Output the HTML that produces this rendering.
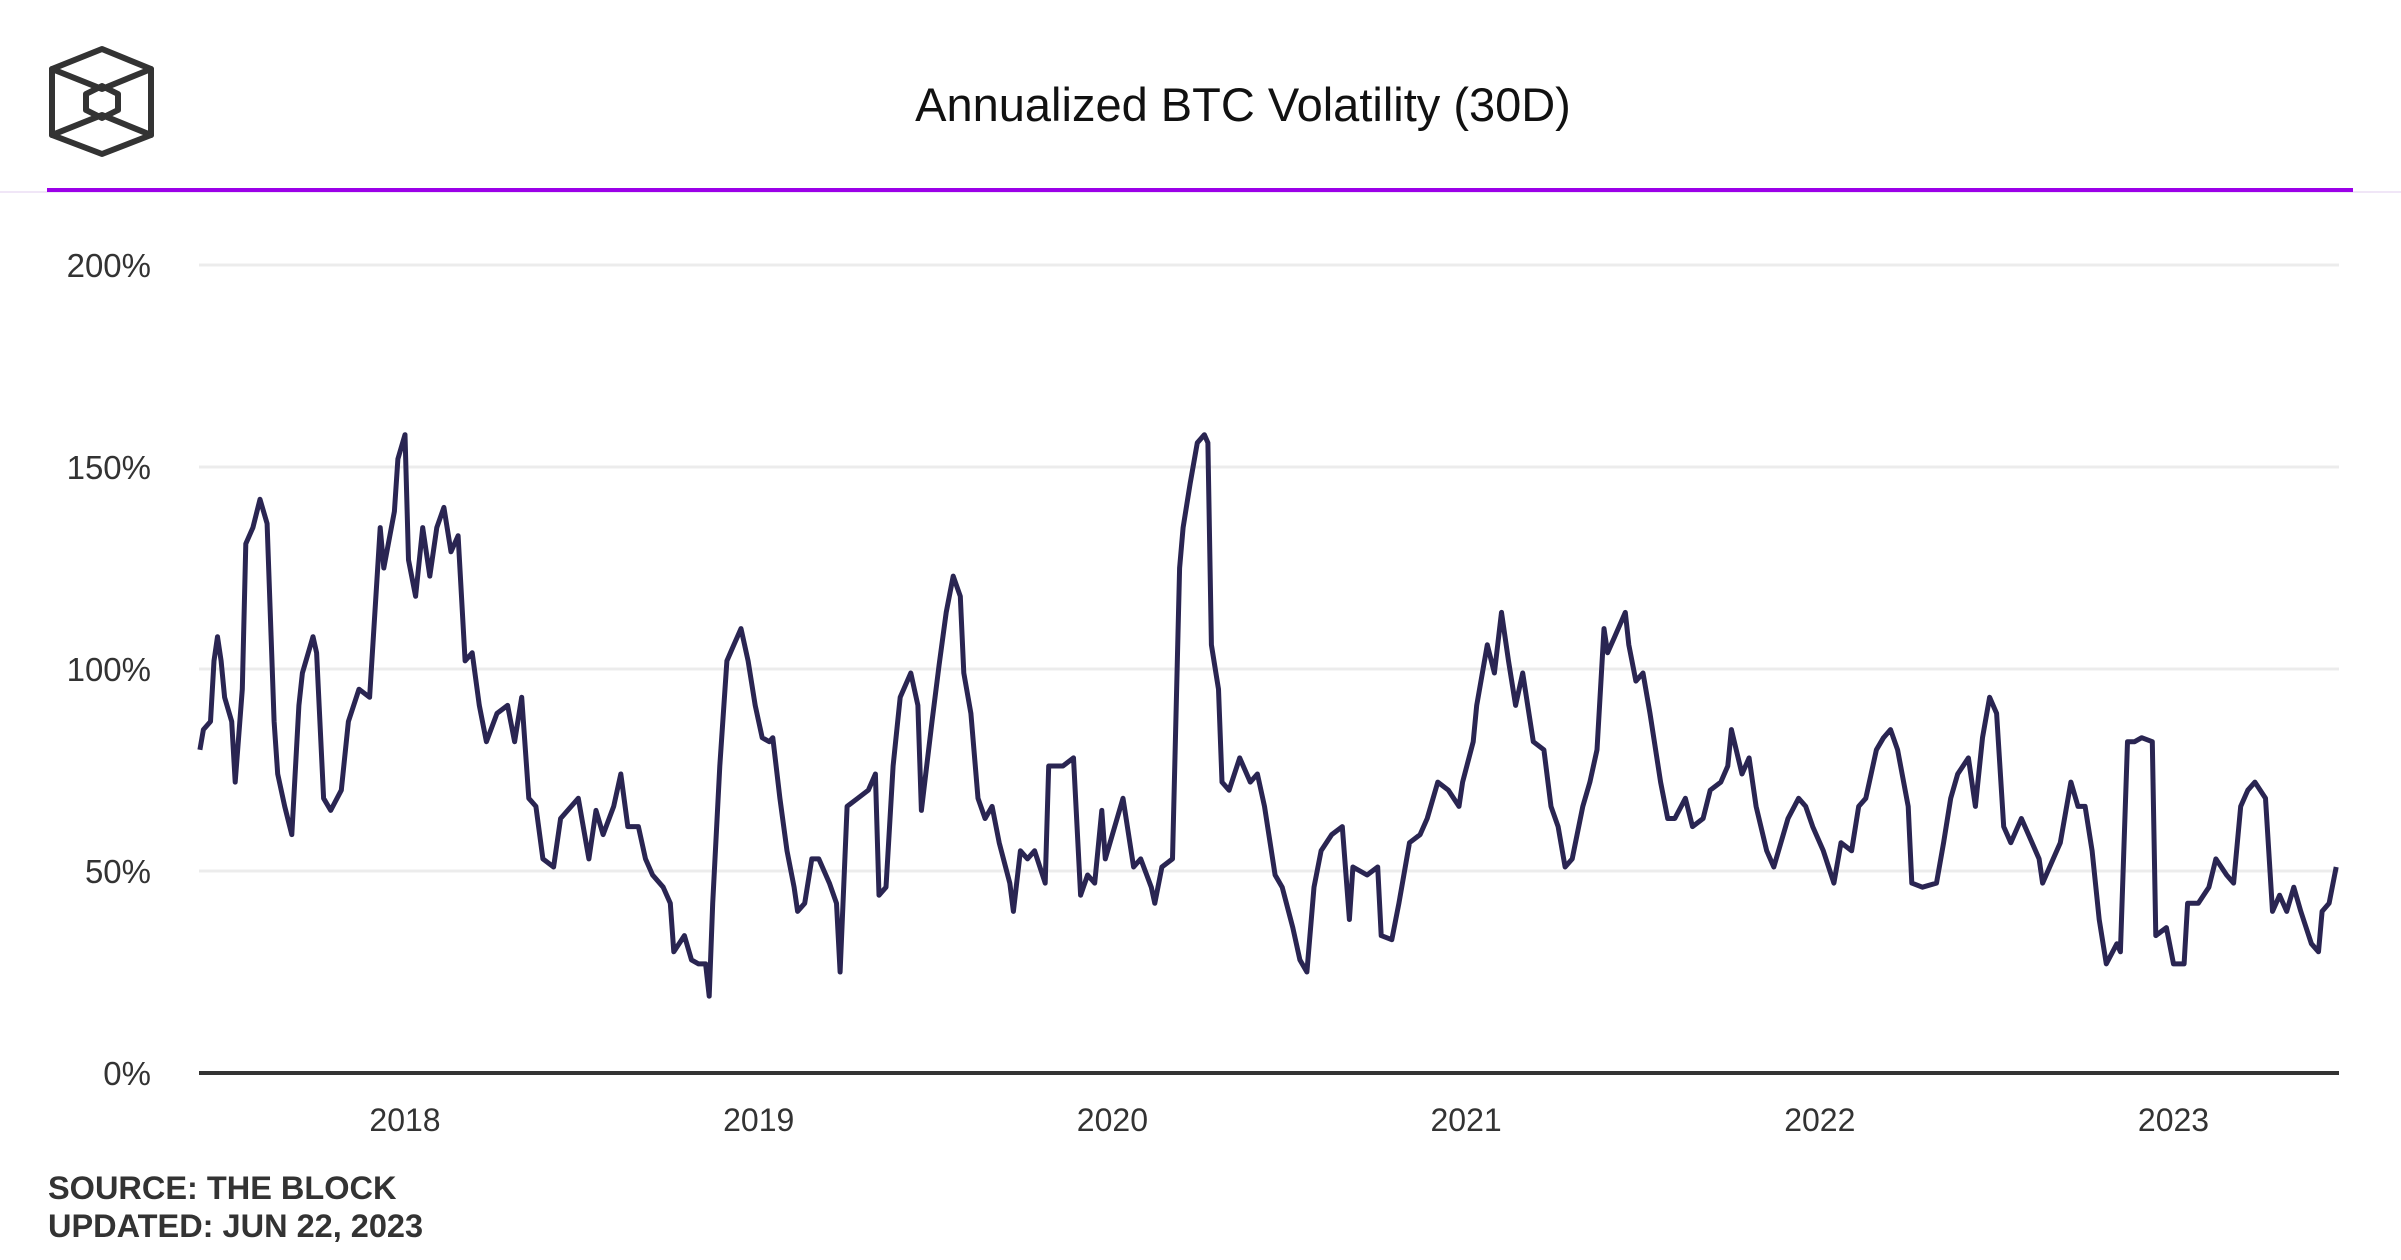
<!DOCTYPE html>
<html><head><meta charset="utf-8"><style>
html,body{margin:0;padding:0;background:#fff;}
body{width:2401px;height:1260px;position:relative;overflow:hidden;font-family:"Liberation Sans",sans-serif;}
</style></head><body>
<svg width="2401" height="1260" viewBox="0 0 2401 1260" style="position:absolute;left:0;top:0">
<g fill="none" stroke="#333" stroke-width="6" stroke-linejoin="round" stroke-linecap="round">
<polygon points="102,49 151,69 151,135 102,154 52,135 52,69"/>
<polyline points="52,69 102,89 151,69"/>
<polyline points="52,135 102,115 151,135"/>
<polygon points="102,86 118,94 118,110 102,118 86,110 86,94"/>
</g>
<text x="1243" y="121" text-anchor="middle" font-size="47" fill="#111" font-family="Liberation Sans, sans-serif">Annualized BTC Volatility (30D)</text>
<rect x="0" y="191" width="2401" height="2" fill="#f0e6f7"/>
<rect x="47" y="188" width="2306" height="4" fill="#9b00e8"/>
<g id="grid"></g>
<g id="yticks"></g>
<g id="xticks"></g>
<path id="line" fill="none" stroke="#2a2552" stroke-width="5" stroke-linejoin="round"/>
<rect x="199" y="1071" width="2140" height="4" fill="#333"/>
<text x="48" y="1199" font-size="32.5" font-weight="bold" fill="#333">SOURCE: THE BLOCK</text>
<text x="48" y="1237" font-size="32.5" font-weight="bold" fill="#333">UPDATED: JUN 22, 2023</text>
</svg>
<script>
const dates=[2017.42,2017.43,2017.45,2017.46,2017.47,2017.48,2017.49,2017.51,2017.52,2017.54,2017.55,2017.57,2017.59,2017.61,2017.63,2017.64,2017.66,2017.68,2017.70,2017.71,2017.74,2017.75,2017.77,2017.79,2017.82,2017.84,2017.87,2017.90,2017.93,2017.94,2017.97,2017.98,2018.00,
2018.01,2018.03,2018.05,2018.07,2018.09,2018.11,2018.13,2018.15,2018.17,2018.19,2018.21,2018.23,2018.26,2018.29,2018.31,2018.33,2018.35,2018.37,2018.39,2018.42,2018.44,2018.47,2018.49,2018.52,2018.54,2018.56,2018.59,2018.61,2018.63,2018.66,2018.68,2018.70,2018.73,2018.75,2018.76,2018.79,2018.81,2018.83,2018.85,2018.86,2018.87,2018.89,2018.91,2018.93,2018.95,2018.97,2018.99,
2019.01,2019.03,2019.04,2019.06,2019.08,2019.10,2019.11,2019.13,2019.15,2019.17,2019.20,2019.22,2019.23,2019.25,2019.28,2019.31,2019.33,2019.34,2019.36,2019.38,2019.40,2019.43,2019.45,2019.46,2019.49,2019.51,2019.53,2019.55,2019.57,2019.58,2019.60,2019.62,2019.64,2019.66,2019.68,2019.71,2019.72,2019.74,2019.76,2019.78,2019.81,2019.82,2019.86,2019.89,2019.91,2019.93,2019.95,2019.97,2019.98,
2020.00,2020.03,2020.06,2020.08,2020.11,2020.12,2020.14,2020.17,2020.19,2020.20,2020.22,2020.24,2020.26,2020.27,2020.28,2020.30,2020.31,2020.33,2020.36,2020.39,2020.41,2020.43,2020.46,2020.48,2020.51,2020.53,2020.55,2020.57,2020.59,2020.62,2020.65,2020.67,2020.68,2020.72,2020.75,2020.76,2020.79,2020.81,2020.84,2020.87,2020.89,2020.92,2020.95,2020.98,
2020.99,2021.02,2021.03,2021.06,2021.08,2021.10,2021.12,2021.14,2021.16,2021.19,2021.22,2021.24,2021.26,2021.28,2021.30,2021.33,2021.35,2021.37,2021.39,2021.40,2021.42,2021.45,2021.46,2021.48,2021.50,2021.52,2021.55,2021.57,2021.59,2021.62,2021.64,2021.67,2021.69,2021.72,2021.74,2021.75,2021.78,2021.80,2021.82,2021.85,2021.87,2021.89,2021.91,2021.94,2021.96,2021.98,
2022.01,2022.04,2022.06,2022.09,2022.11,2022.13,2022.16,2022.18,2022.20,2022.22,2022.25,2022.26,2022.29,2022.33,2022.35,2022.37,2022.39,2022.42,2022.44,2022.46,2022.48,2022.50,2022.52,2022.54,2022.57,2022.59,2022.62,2022.63,2022.66,2022.68,2022.71,2022.73,2022.75,2022.77,2022.79,2022.81,2022.84,2022.85,2022.87,2022.89,2022.91,2022.94,2022.95,2022.98,
2023.00,2023.03,2023.04,2023.07,2023.10,2023.12,2023.15,2023.17,2023.19,2023.21,2023.23,2023.26,2023.28,2023.30,2023.32,2023.34,2023.36,2023.39,2023.41,2023.42,2023.44,2023.46];
const vols=[80,85,87,102,108,102,93,87,72,95,131,135,142,136,87,74,66,59,91,99,108,104,68,65,70,87,95,93,135,125,139,152,158,
127,118,135,123,135,140,129,133,102,104,91,82,89,91,82,93,68,66,53,51,63,66,68,53,65,59,66,74,61,61,53,49,46,42,30,34,28,27,27,19,42,76,102,106,110,102,91,
83,82,83,68,55,46,40,42,53,53,47,42,25,66,68,70,74,44,46,76,93,99,91,65,87,101,114,123,118,99,89,68,63,66,57,47,40,55,53,55,47,76,76,78,44,49,47,65,53,
59,68,51,53,46,42,51,53,125,135,146,156,158,156,106,95,72,70,78,72,74,66,49,46,36,28,25,46,55,59,61,38,51,49,51,34,33,42,57,59,63,72,70,66,
72,82,91,106,99,114,102,91,99,82,80,66,61,51,53,66,72,80,110,104,108,114,106,97,99,89,72,63,63,68,61,63,70,72,76,85,74,78,66,55,51,57,63,68,66,61,
55,47,57,55,66,68,80,83,85,80,66,47,46,47,57,68,74,78,66,83,93,89,61,57,63,59,53,47,53,57,72,66,66,55,38,27,32,30,82,82,83,82,34,36,
27,27,42,42,46,53,49,47,66,70,72,68,40,44,40,46,40,32,30,40,42,51];
const yTicks=[0,50,100,150,200];
const yTickLabels=["0%","50%","100%","150%","200%"];
const xTicks=[2018,2019,2020,2021,2022,2023];
const xTickLabels=["2018","2019","2020","2021","2022","2023"];
const xs=t=>405+(t-2018)*353.7;
const ys=v=>1073-v*4.04;
const NS="http://www.w3.org/2000/svg";
const grid=document.getElementById('grid'),yt=document.getElementById('yticks'),xt=document.getElementById('xticks');
yTicks.forEach((v,i)=>{
  if(v>0){const l=document.createElementNS(NS,'rect');
  
  
  l.setAttribute('x',199);l.setAttribute('y',ys(v)-1.5);l.setAttribute('width',2140);l.setAttribute('height',3);l.setAttribute('fill','#ececec');grid.appendChild(l);}
  const t=document.createElementNS(NS,'text');
  
  
  t.setAttribute('x',151);t.setAttribute('y',ys(v)+12);t.setAttribute('text-anchor','end');t.setAttribute('font-size','33');t.setAttribute('fill','#333');
  t.textContent=yTickLabels[i];yt.appendChild(t);
});
xTicks.forEach((v,i)=>{
  const t=document.createElementNS(NS,'text');
  
  
  t.setAttribute('x',xs(v));t.setAttribute('y',1131);t.setAttribute('text-anchor','middle');t.setAttribute('font-size','32');t.setAttribute('fill','#333');
  t.textContent=xTickLabels[i];xt.appendChild(t);
});
document.getElementById('line').setAttribute('d',dates.map((d,i)=>(i?'L':'M')+xs(d).toFixed(1)+','+ys(vols[i]).toFixed(1)).join(''));
</script>
</body></html>
